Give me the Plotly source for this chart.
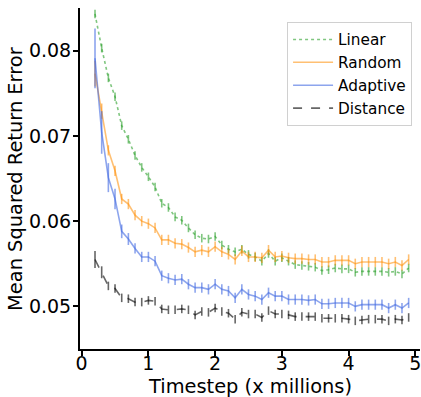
import plotly.graph_objects as go

timesteps = [0.2, 0.3, 0.4, 0.5, 0.6, 0.7, 0.8, 0.9, 1.0, 1.1, 1.2, 1.3, 1.4, 1.5, 1.6, 1.7,
             1.8, 1.9, 2.0, 2.1, 2.2, 2.3, 2.4, 2.5, 2.6, 2.7, 2.8, 2.9, 3.0, 3.1, 3.2, 3.3,
             3.4, 3.5, 3.6, 3.7, 3.8, 3.9, 4.0, 4.1, 4.2, 4.3, 4.4, 4.5, 4.6, 4.7, 4.8, 4.9]

linear = [0.0843, 0.0803, 0.0768, 0.0746, 0.0712, 0.0696, 0.0677, 0.0663, 0.0652, 0.0640,
          0.0621, 0.0616, 0.0605, 0.0601, 0.0592, 0.0584, 0.0580, 0.0579, 0.0582, 0.0572,
          0.0567, 0.0564, 0.0567, 0.0561, 0.0558, 0.0553, 0.0562, 0.0553, 0.0557, 0.0553,
          0.0549, 0.0548, 0.0547, 0.0546, 0.0542, 0.0543, 0.0545, 0.0544, 0.0544, 0.0540,
          0.0541, 0.0541, 0.0541, 0.0541, 0.0540, 0.0541, 0.0538, 0.0545]
linear_err = [0.0005, 0.0005, 0.0005, 0.0005, 0.0005, 0.0005, 0.0005, 0.0005, 0.0005, 0.0005,
              0.0005, 0.0005, 0.0005, 0.0005, 0.0005, 0.0005, 0.0005, 0.0005, 0.0005, 0.0005,
              0.0005, 0.0005, 0.0005, 0.0005, 0.0005, 0.0005, 0.0005, 0.0005, 0.0005, 0.0005,
              0.0005, 0.0005, 0.0005, 0.0005, 0.0005, 0.0005, 0.0005, 0.0005, 0.0005, 0.0005,
              0.0005, 0.0005, 0.0005, 0.0005, 0.0005, 0.0005, 0.0005, 0.0005]

random_ = [0.0773, 0.0729, 0.0683, 0.0659, 0.0626, 0.0620, 0.0607, 0.0600, 0.0597, 0.0592,
           0.0578, 0.0578, 0.0574, 0.0573, 0.0569, 0.0564, 0.0566, 0.0564, 0.0570, 0.0564,
           0.0561, 0.0555, 0.0565, 0.0558, 0.0558, 0.0557, 0.0566, 0.0558, 0.0559, 0.0557,
           0.0556, 0.0556, 0.0555, 0.0555, 0.0552, 0.0552, 0.0554, 0.0554, 0.0554, 0.0550,
           0.0552, 0.0552, 0.0552, 0.0552, 0.0550, 0.0552, 0.0548, 0.0555]
random_err = [0.0015, 0.0009, 0.0006, 0.0006, 0.0006, 0.0006, 0.0006, 0.0006, 0.0006, 0.0006,
              0.0006, 0.0006, 0.0006, 0.0006, 0.0006, 0.0006, 0.0006, 0.0006, 0.0006, 0.0006,
              0.0006, 0.0006, 0.0006, 0.0006, 0.0006, 0.0006, 0.0006, 0.0006, 0.0006, 0.0006,
              0.0006, 0.0006, 0.0006, 0.0006, 0.0006, 0.0006, 0.0006, 0.0006, 0.0006, 0.0006,
              0.0006, 0.0006, 0.0006, 0.0006, 0.0006, 0.0006, 0.0006, 0.0006]

adaptive = [0.0791, 0.0704, 0.0651, 0.0626, 0.0588, 0.0579, 0.0568, 0.0558, 0.0558, 0.0553,
            0.0536, 0.0533, 0.0531, 0.0532, 0.0526, 0.0522, 0.0522, 0.0520, 0.0526, 0.0520,
            0.0518, 0.0510, 0.0520, 0.0514, 0.0512, 0.0508, 0.0516, 0.0512, 0.0512, 0.0508,
            0.0508, 0.0508, 0.0507, 0.0508, 0.0503, 0.0503, 0.0504, 0.0504, 0.0504, 0.0500,
            0.0502, 0.0502, 0.0502, 0.0502, 0.0498, 0.0502, 0.0498, 0.0504]
adaptive_err = [0.0035, 0.0025, 0.0017, 0.0012, 0.0008, 0.0007, 0.0006, 0.0006, 0.0006, 0.0006,
                0.0006, 0.0006, 0.0006, 0.0006, 0.0006, 0.0006, 0.0006, 0.0006, 0.0006, 0.0006,
                0.0006, 0.0006, 0.0006, 0.0006, 0.0006, 0.0006, 0.0006, 0.0006, 0.0006, 0.0006,
                0.0006, 0.0006, 0.0006, 0.0006, 0.0006, 0.0006, 0.0006, 0.0006, 0.0006, 0.0006,
                0.0006, 0.0006, 0.0006, 0.0006, 0.0006, 0.0006, 0.0006, 0.0006]

distance = [0.0555, 0.0540, 0.0524, 0.0521, 0.0510, 0.0509, 0.0505, 0.0505, 0.0507, 0.0506,
            0.0497, 0.0496, 0.0496, 0.0497, 0.0496, 0.0490, 0.0494, 0.0493, 0.0498, 0.0494,
            0.0492, 0.0485, 0.0493, 0.0491, 0.0491, 0.0487, 0.0495, 0.0491, 0.0491, 0.0490,
            0.0488, 0.0488, 0.0488, 0.0488, 0.0486, 0.0486, 0.0486, 0.0486, 0.0485, 0.0483,
            0.0484, 0.0485, 0.0485, 0.0485, 0.0483, 0.0485, 0.0484, 0.0487]
distance_err = [0.0010, 0.0007, 0.0005, 0.0005, 0.0005, 0.0005, 0.0005, 0.0005, 0.0005, 0.0005,
                0.0005, 0.0005, 0.0005, 0.0005, 0.0005, 0.0005, 0.0005, 0.0005, 0.0005, 0.0005,
                0.0005, 0.0005, 0.0005, 0.0005, 0.0005, 0.0005, 0.0005, 0.0005, 0.0005, 0.0005,
                0.0005, 0.0005, 0.0005, 0.0005, 0.0005, 0.0005, 0.0005, 0.0005, 0.0005, 0.0005,
                0.0005, 0.0005, 0.0005, 0.0005, 0.0005, 0.0005, 0.0005, 0.0005]

series = [
    ("Linear", linear, linear_err, "rgba(44,160,44,0.6)", "dot"),
    ("Random", random_, random_err, "rgba(255,140,0,0.55)", "solid"),
    ("Adaptive", adaptive, adaptive_err, "rgba(65,105,225,0.6)", "solid"),
    ("Distance", distance, distance_err, "rgba(0,0,0,0.6)", "dash"),
]

FONT = "DejaVu Sans"
fig = go.Figure()
for name, vals, errs, color, dash in series:
    fig.add_trace(go.Scatter(
        x=timesteps, y=vals, name=name, mode="lines",
        line=dict(color=color, width=1.6, dash=dash),
        error_y=dict(type="data", array=errs, visible=True, color=color,
                     thickness=1.6, width=0),
    ))

fig.update_layout(
    width=421, height=397,
    margin=dict(l=80, r=1, t=8, b=48),
    paper_bgcolor="white", plot_bgcolor="white",
    font=dict(family=FONT, color="black", size=19),
    showlegend=True,
    legend=dict(x=0.609, y=0.959, xanchor="left", yanchor="top",
                bgcolor="rgba(255,255,255,0.8)", bordercolor="#d0d0d0", borderwidth=1,
                font=dict(family=FONT, size=15.3), itemwidth=40),
    xaxis=dict(range=[-0.025, 5.07], tickvals=[0, 1, 2, 3, 4, 5], automargin=False,
               ticklabeloverflow="allow", ticklabelstandoff=-9,
               showgrid=False, zeroline=False, showline=True, linecolor="black", linewidth=2,
               ticks="outside", ticklen=5, tickwidth=1.5, tickcolor="black",
               tickfont=dict(size=19)),
    yaxis=dict(range=[0.045, 0.085], tickvals=[0.05, 0.06, 0.07, 0.08], automargin=False,
               ticktext=["0.05", "0.06", "0.07", "0.08"], ticklabeloverflow="allow",
               ticklabelstandoff=-2,
               showgrid=False, zeroline=False, showline=True, linecolor="black", linewidth=2,
               ticks="outside", ticklen=5, tickwidth=1.5, tickcolor="black",
               tickfont=dict(size=19)),
    annotations=[
        dict(text="Timestep (x millions)", xref="paper", yref="paper", x=0.5, y=-0.11,
             xanchor="center", yanchor="middle", showarrow=False,
             font=dict(family=FONT, size=19.4, color="black")),
        dict(text="Mean Squared Return Error", xref="paper", yref="paper", x=-0.19, y=0.5,
             xanchor="center", yanchor="middle", textangle=-90, showarrow=False,
             font=dict(family=FONT, size=19.4, color="black")),
    ],
)

# remove the browser's default 8px page margin so the figure fills the window exactly
fig.write_html("out.html", config={"displayModeBar": False},
               post_script="document.body.style.margin='0';")
